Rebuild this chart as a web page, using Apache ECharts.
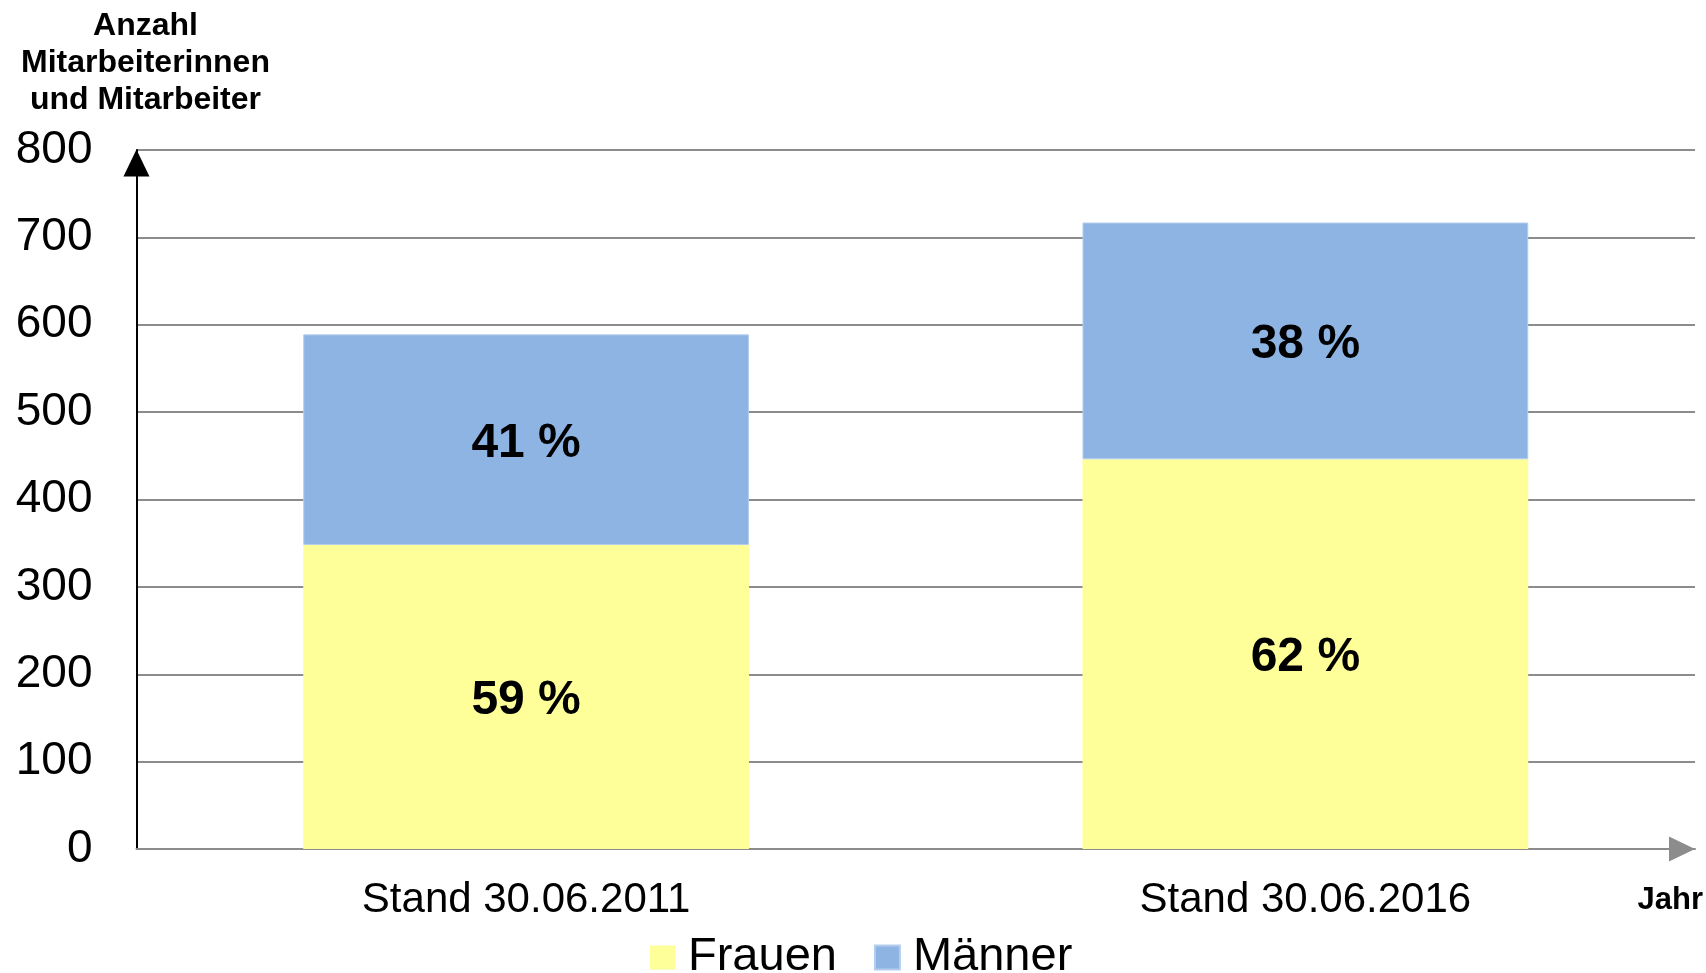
<!DOCTYPE html>
<html>
<head>
<meta charset="utf-8">
<script src="https://cdn.jsdelivr.net/npm/echarts@6/dist/echarts.min.js"></script>
<style>
  html, body { margin: 0; padding: 0; background: #fff; }
  #chart { width: 1706px; height: 973px; }
</style>
</head>
<body>
<div id="chart"></div>
<script>
// Mitarbeiterinnen und Mitarbeiter nach Geschlecht
const categories = ["Stand 30.06.2011", "Stand 30.06.2016"];
const frauen = [348, 446];
const maenner = [241, 271];
const frauenPct = ["59 %", "62 %"];
const maennerPct = ["41 %", "38 %"];
const yTicks = [0, 100, 200, 300, 400, 500, 600, 700, 800];

const font = "Liberation Sans, Arial, sans-serif";
const chart = echarts.init(document.getElementById("chart"));

const labelStyle = {
  show: true,
  position: "inside",
  offset: [0, 4],
  fontFamily: font,
  fontSize: 48,
  fontWeight: "bold",
  color: "#000"
};

const option = {
  animation: false,
  textStyle: { fontFamily: font },
  grid: { left: 136, right: 10, top: 150, bottom: 124, containLabel: false },
  legend: {
    data: ["Frauen", "Männer"],
    left: 650,
    top: 934,
    padding: 0,
    icon: "rect",
    itemWidth: 25,
    itemHeight: 24,
    itemGap: 37,
    textStyle: { fontFamily: font, fontSize: 47, color: "#000", padding: [0, 0, 0, 8] }
  },
  xAxis: {
    type: "category",
    data: categories,
    name: "Jahr",
    nameLocation: "end",
    nameGap: 8,
    nameTextStyle: {
      fontFamily: font, fontSize: 31, fontWeight: "bold", color: "#000",
      align: "right", verticalAlign: "top", padding: [36, 0, 0, 0]
    },
    axisLine: {
      show: true,
      lineStyle: { color: "#8c8c8c", width: 2 },
      symbol: ["none", "triangle"],
      symbolSize: [25, 26],
      symbolOffset: [0, -13]
    },
    axisTick: { show: false },
    axisLabel: { fontFamily: font, fontSize: 42, color: "#000", margin: 30 }
  },
  yAxis: {
    type: "value",
    min: 0,
    max: 800,
    interval: 100,
    name: "Anzahl\nMitarbeiterinnen\nund Mitarbeiter",
    nameLocation: "end",
    nameGap: 31,
    nameTextStyle: {
      fontFamily: font, fontSize: 32, fontWeight: "bold", color: "#000",
      align: "center", lineHeight: 37, padding: [0, 0, 0, 18]
    },
    axisLine: {
      show: true,
      lineStyle: { color: "#000", width: 2 },
      symbol: ["none", "triangle"],
      symbolSize: [26, 27],
      symbolOffset: [0, -13]
    },
    axisTick: { show: false },
    axisLabel: {
      fontFamily: font, fontSize: 46, color: "#000", margin: 44,
      formatter: v => (yTicks.indexOf(v) >= 0 ? String(v) : "")
    },
    splitLine: { show: true, lineStyle: { color: "#8c8c8c", width: 2 } }
  },
  series: [
    {
      name: "Frauen",
      type: "bar",
      stack: "total",
      barWidth: "57.2%",
      data: frauen,
      itemStyle: { color: "#FFFF99" },
      label: Object.assign({}, labelStyle, { formatter: p => frauenPct[p.dataIndex] })
    },
    {
      name: "Männer",
      type: "bar",
      stack: "total",
      data: maenner,
      itemStyle: { color: "#8EB4E3", borderColor: "#b4cdee", borderWidth: 1 },
      label: Object.assign({}, labelStyle, { formatter: p => maennerPct[p.dataIndex] })
    }
  ]
};

chart.setOption(option);
</script>
</body>
</html>
